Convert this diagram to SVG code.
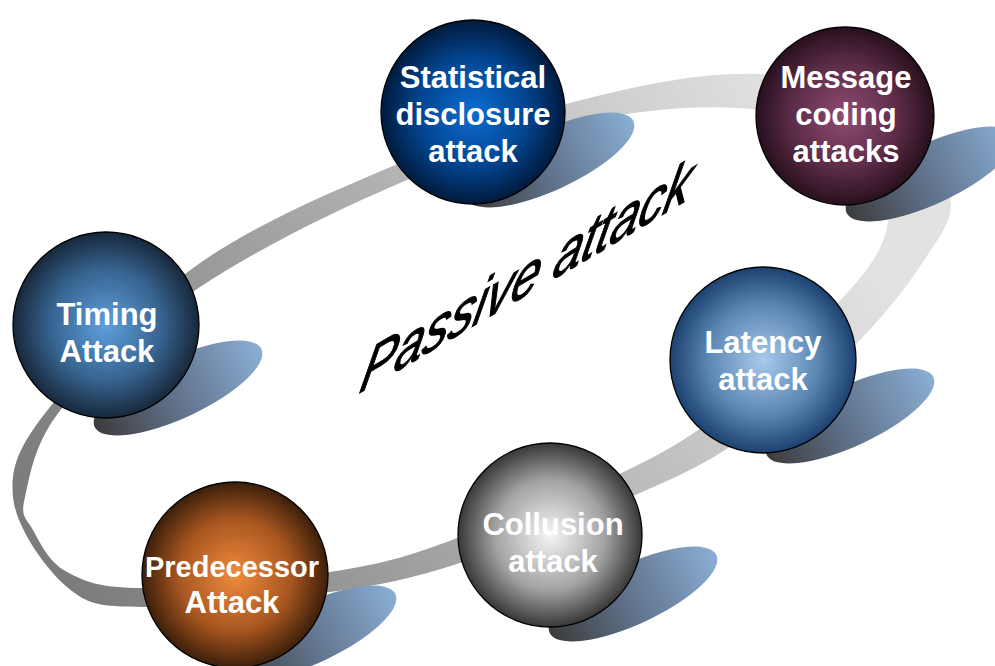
<svg xmlns="http://www.w3.org/2000/svg" width="995" height="666" viewBox="0 0 995 666">
  <defs>
    <linearGradient id="ringGrad" gradientUnits="userSpaceOnUse" x1="60" y1="560" x2="820" y2="160">
      <stop offset="0" stop-color="#7c7c7c"/>
      <stop offset="0.45" stop-color="#a8a8a8"/>
      <stop offset="1" stop-color="#e2e2e2"/>
    </linearGradient>
    <linearGradient id="shadowGrad" x1="0" y1="0" x2="1" y2="0">
      <stop offset="0" stop-color="#3c3c3c"/>
      <stop offset="0.45" stop-color="#5f718a"/>
      <stop offset="1" stop-color="#8aaed4"/>
    </linearGradient>
    <radialGradient id="gStat" cx="0.5" cy="0.5" r="0.5">
      <stop offset="0" stop-color="#0b6dd2"/>
      <stop offset="0.6" stop-color="#03448f"/>
      <stop offset="1" stop-color="#001a3c"/>
    </radialGradient>
    <radialGradient id="gMsg" cx="0.5" cy="0.5" r="0.5">
      <stop offset="0" stop-color="#904c72"/>
      <stop offset="0.6" stop-color="#5c2c47"/>
      <stop offset="1" stop-color="#28101d"/>
    </radialGradient>
    <radialGradient id="gTim" cx="0.5" cy="0.5" r="0.5">
      <stop offset="0" stop-color="#5ea0de"/>
      <stop offset="0.6" stop-color="#37638f"/>
      <stop offset="1" stop-color="#17283b"/>
    </radialGradient>
    <radialGradient id="gLat" cx="0.5" cy="0.5" r="0.5">
      <stop offset="0" stop-color="#a9c9ea"/>
      <stop offset="0.6" stop-color="#5a86b4"/>
      <stop offset="1" stop-color="#1b416f"/>
    </radialGradient>
    <radialGradient id="gCol" cx="0.5" cy="0.5" r="0.5">
      <stop offset="0" stop-color="#f6f6f6"/>
      <stop offset="0.6" stop-color="#a2a2a2"/>
      <stop offset="1" stop-color="#383838"/>
    </radialGradient>
    <radialGradient id="gPre" cx="0.5" cy="0.5" r="0.5">
      <stop offset="0" stop-color="#f08b3d"/>
      <stop offset="0.6" stop-color="#a85620"/>
      <stop offset="1" stop-color="#3c1f0a"/>
    </radialGradient>
    <style>
      .sphere { stroke: #000; stroke-width: 1.3; }
      .shadow { fill: url(#shadowGrad); }
      .lbl { font-family: "Liberation Sans", Arial, sans-serif; font-weight: bold; font-size: 31px; fill: #ffffff; text-anchor: middle; }
      .title { font-family: "Liberation Sans", Arial, sans-serif; font-style: italic; font-size: 60px; fill: #000000; stroke: #000000; stroke-width: 1.2px; }
    </style>
  </defs>

  <rect x="0" y="0" width="995" height="666" fill="#ffffff"/>

  <g id="connectors">
    <path id="ring" fill="url(#ringGrad)" fill-rule="evenodd" d="M13,497 C10.2,467 18.8,446 50,407 C81.2,368 141.7,303.7 200,263 C258.3,222.3 334.5,190.7 400,163 C465.5,135.3 533,111.8 593,97 C653,82.2 709.7,71.5 760,74 C810.3,76.5 863.3,91.8 895,112 C926.7,132.2 945.3,170 950,195 C954.7,220 939.7,236.2 923,262 C906.3,287.8 880.5,320.3 850,350 C819.5,379.7 775,416.2 740,440 C705,463.8 686.7,472.5 640,493 C593.3,513.5 511.7,546.5 460,563 C408.3,579.5 382.8,584.7 330,592 C277.2,599.3 186.8,607.8 143,607 C99.2,606.2 88.7,605.3 67,587 C45.3,568.7 15.8,527 13,497 Z M25,497 C30,476.5 33.8,442 63,407 C92.2,372 143.8,324.3 200,287 C256.2,249.7 334.5,210.8 400,183 C465.5,155.2 533,132.2 593,120 C653,107.8 714.7,104.2 760,110 C805.3,115.8 843.5,137.5 865,155 C886.5,172.5 892,192 889,215 C886,238 881.3,255.5 847,293 C812.7,330.5 747.5,399.3 683,440 C618.5,480.7 518.8,515 460,537 C401.2,559 382.8,563.5 330,572 C277.2,580.5 186.8,588 143,588 C99.2,588 85.3,581.7 67,572 C48.7,562.3 40,542.5 33,530 C26,517.5 20,517.5 25,497 Z"/>
  </g>

  <g id="title">
    <text class="title" transform="matrix(0.85 -0.5 -0.25 1.08 358 394)" x="0" y="0">Passive attack</text>
  </g>

  <g id="node-statistical">
    <ellipse class="shadow" cx="550" cy="160" rx="92" ry="30" transform="rotate(-25 550 160)"/>
    <circle class="sphere" cx="473" cy="112" r="92" fill="url(#gStat)"/>
    <text class="lbl" x="473" y="88">Statistical</text>
    <text class="lbl" x="473" y="125">disclosure</text>
    <text class="lbl" x="473" y="162">attack</text>
  </g>

  <g id="node-message">
    <ellipse class="shadow" cx="930" cy="174" rx="92" ry="30" transform="rotate(-25 930 174)"/>
    <circle class="sphere" cx="845" cy="116" r="89" fill="url(#gMsg)"/>
    <text class="lbl" x="846" y="88">Message</text>
    <text class="lbl" x="846" y="125">coding</text>
    <text class="lbl" x="846" y="162">attacks</text>
  </g>

  <g id="node-timing">
    <ellipse class="shadow" cx="178" cy="388" rx="92" ry="30" transform="rotate(-25 178 388)"/>
    <circle class="sphere" cx="106" cy="325" r="93" fill="url(#gTim)"/>
    <text class="lbl" x="107" y="325">Timing</text>
    <text class="lbl" x="107" y="362">Attack</text>
  </g>

  <g id="node-latency">
    <ellipse class="shadow" cx="850" cy="416" rx="92" ry="30" transform="rotate(-25 850 416)"/>
    <circle class="sphere" cx="763" cy="360" r="93" fill="url(#gLat)"/>
    <text class="lbl" x="763" y="353">Latency</text>
    <text class="lbl" x="763" y="390">attack</text>
  </g>

  <g id="node-collusion">
    <ellipse class="shadow" cx="633" cy="594" rx="92" ry="30" transform="rotate(-25 633 594)"/>
    <circle class="sphere" cx="550" cy="535" r="92" fill="url(#gCol)"/>
    <text class="lbl" x="553" y="535">Collusion</text>
    <text class="lbl" x="553" y="572">attack</text>
  </g>

  <g id="node-predecessor">
    <ellipse class="shadow" cx="312" cy="633" rx="92" ry="30" transform="rotate(-25 312 633)"/>
    <circle class="sphere" cx="235" cy="575" r="93" fill="url(#gPre)"/>
    <text class="lbl" x="232" y="577" style="font-size:29px">Predecessor</text>
    <text class="lbl" x="232" y="613">Attack</text>
  </g>
</svg>
